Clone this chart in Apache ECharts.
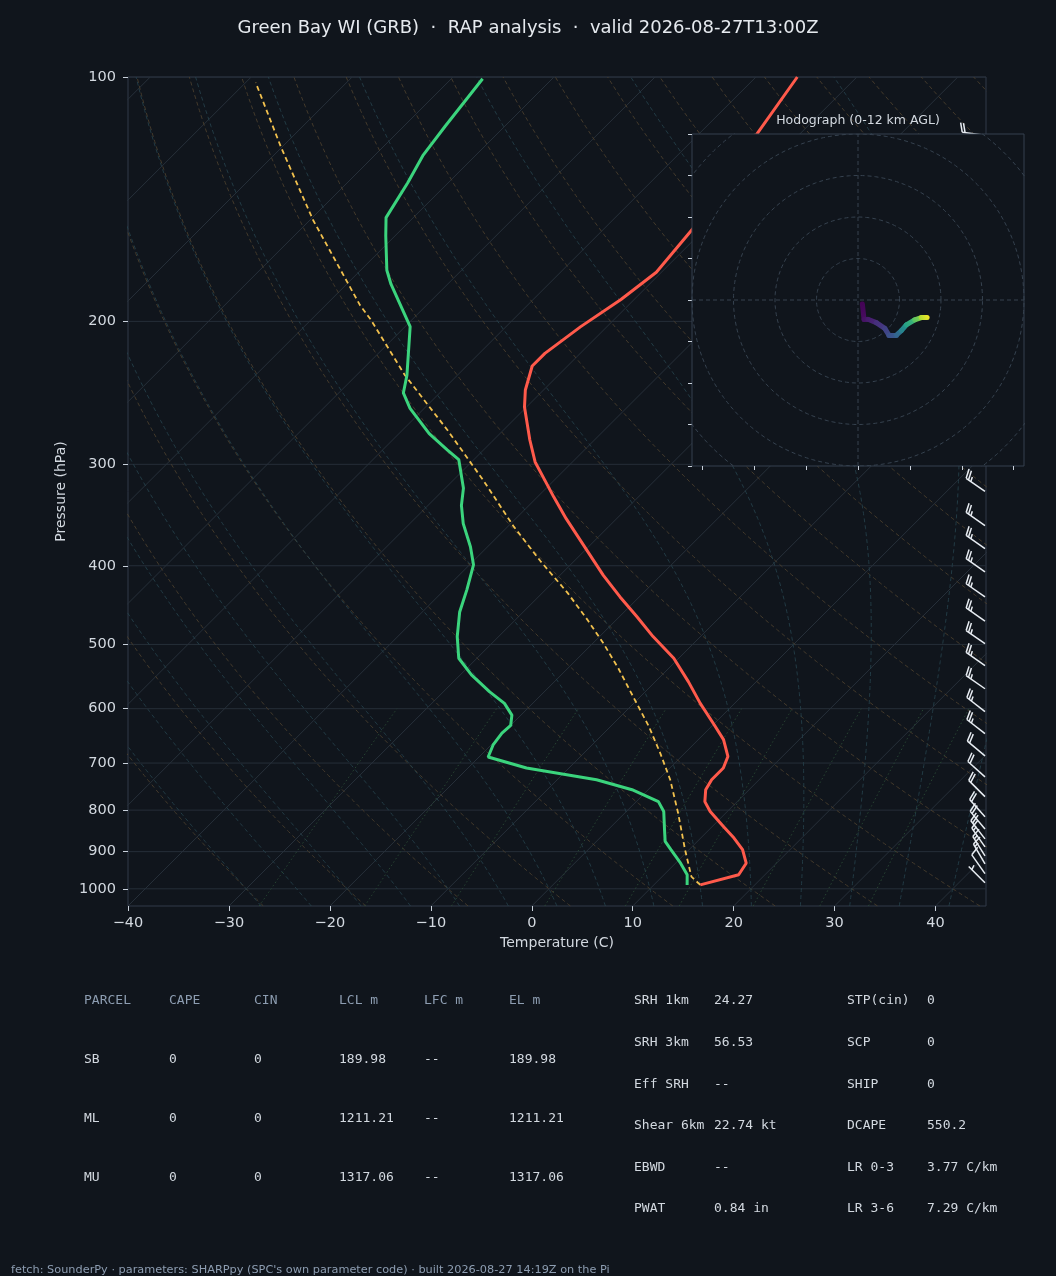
<!DOCTYPE html>
<html>
<head>
<meta charset="utf-8">
<title>Green Bay WI (GRB) sounding</title>
<script src="https://cdn.jsdelivr.net/npm/echarts@6/dist/echarts.min.js"></script>
<style>
  html, body { margin: 0; padding: 0; background: #10151c; }
  #chart { width: 1056px; height: 1276px; }
</style>
</head>
<body>
<div id="chart"></div>
<script>
// ---- sounding: pressure (hPa) / temperature (C) ----
var tempP = [989, 961, 930, 895, 866, 838, 803, 781, 755, 734, 710, 687, 655, 628, 591, 556, 520, 489, 462, 437,
             411, 395, 377, 350, 329, 314, 298, 280, 255, 243, 227, 219, 203, 188, 174, 154, 135, 117, 100];
var tempT = [14.6, 17.4, 17.0, 15.3, 13.3, 11.1, 8.3, 6.8, 5.7, 5.3, 5.3, 4.6, 2.5, 0.1, -3.4, -6.7, -10.5, -14.7, -18.3, -21.9,
             -25.7, -28.0, -30.7, -35.0, -38.4, -40.9, -43.7, -46.4, -50.2, -51.8, -53.5, -53.5, -52.6, -51.3, -50.5, -51.2, -52.7, -54.3, -55.9];

var dewP = [989, 961, 930, 895, 874, 846, 803, 781, 755, 734, 710, 688, 665, 643, 629, 611, 591, 572, 545, 520,
            489, 456, 428, 399, 379, 355, 337, 321, 296, 288, 275, 256, 245, 233, 203, 194, 180, 173, 157, 149,
            135, 125, 115, 100.5];
var dewT = [13.3, 12.3, 10.5, 8.2, 6.8, 5.6, 3.7, 2.2, -1.6, -6.1, -14.2, -19.1, -19.8, -20.1, -20.0, -20.9, -22.8, -25.4, -28.9, -31.8,
            -34.1, -36.3, -37.8, -39.6, -41.7, -44.7, -46.7, -48.2, -51.5, -53.6, -57.0, -61.4, -63.6, -65.0, -69.5, -71.8, -75.6, -77.4, -80.9, -82.7,
            -84.0, -85.2, -85.9, -86.9];

var parcelP = [989, 966, 895, 807, 734, 681, 631, 580, 535, 498, 466, 432, 395, 358, 314, 272, 233, 199, 191, 150, 122, 101.6];
var parcelT = [14.6, 12.9, 9.6, 5.3, 1.2, -2.4, -6.2, -10.7, -15.0, -19.0, -22.9, -27.5, -33.3, -39.4, -47.0, -55.6, -65.2, -74.1, -76.6, -89.7, -100.1, -109.0];

// wind barbs: pressure (hPa), direction (deg), speed (kt)
var barbP   = [118, 324, 357, 381, 407, 437, 468, 499, 531, 567, 605, 644, 686, 728, 770, 815, 844, 868, 888, 911, 932, 958, 983];
var barbDir = [278, 305, 305, 305, 305, 305, 305, 305, 305, 305, 308, 308, 310, 312, 315, 318, 320, 322, 325, 328, 330, 325, 315];
var barbSpd = [20, 25, 25, 25, 25, 25, 25, 25, 25, 25, 25, 25, 20, 20, 20, 20, 20, 20, 15, 15, 15, 10, 5];

// hodograph 0-12 km: u, v (kt), height (km AGL)
var hodoU = [2.1, 2.9, 4.8, 8.8, 12.9, 14.9, 18.5, 20.9, 23.3, 27.3, 30.5, 33.3];
var hodoV = [-1.9, -9.3, -9.3, -10.9, -13.7, -16.9, -16.9, -14.8, -12.0, -9.6, -8.5, -8.4];
var hodoZ = [0, 0.5, 0.8, 1.5, 2.2, 2.8, 3.6, 5.0, 6.5, 8.5, 10.3, 12.0];
var hodoRings = [20, 40, 60, 80, 100];
var hodoXTicks = [-75, -50, -25, 0, 25, 50, 75];

var pressureTicks = [100, 200, 300, 400, 500, 600, 700, 800, 900, 1000];
var tempTicks = [-40, -30, -20, -10, 0, 10, 20, 30, 40];

// parameter tables
var parcelHead = ['PARCEL', 'CAPE', 'CIN', 'LCL m', 'LFC m', 'EL m'];
var parcelRows = [
  ['SB', '0', '0', '189.98', '--', '189.98'],
  ['ML', '0', '0', '1211.21', '--', '1211.21'],
  ['MU', '0', '0', '1317.06', '--', '1317.06']
];
var kinematics = [['SRH 1km', '24.27'], ['SRH 3km', '56.53'], ['Eff SRH', '--'],
                  ['Shear 6km', '22.74 kt'], ['EBWD', '--'], ['PWAT', '0.84 in']];
var composites = [['STP(cin)', '0'], ['SCP', '0'], ['SHIP', '0'],
                  ['DCAPE', '550.2'], ['LR 0-3', '3.77 C/km'], ['LR 3-6', '7.29 C/km']];

var BG = '#10151c';
var TXT = '#d3d9e0';
var SKEW = 80.5;          // deg C of x shift per decade of pressure
var P_BOT = 1050, P_TOP = 100;

function lp(p) { return Math.log10(p); }
function skewX(t, p) { return t + SKEW * Math.log10(P_BOT / p); }
function profile(ps, ts) { return ps.map(function (p, i) { return [skewX(ts[i], p), lp(p)]; }); }

// ---- thermodynamic background lines ----
var curveP = [];
for (var q = P_BOT; q >= P_TOP; q -= 5) curveP.push(q);

var isotherms = [];
for (var ti = -130; ti <= 40; ti += 10) {
  isotherms.push({ coords: [[skewX(ti, P_BOT), lp(P_BOT)], [skewX(ti, P_TOP), lp(P_TOP)]] });
}
var isobars = pressureTicks.map(function (p) { return { coords: [[-40, lp(p)], [45, lp(p)]] }; });

var dryAdiabats = [];
for (var td = -30; td <= 200; td += 10) {
  dryAdiabats.push({ coords: curveP.map(function (p) {
    var t = (td + 273.15) * Math.pow(p / 1000, 0.2857) - 273.15;
    return [skewX(t, p), lp(p)];
  }) });
}

function moistRate(p, T) {
  var tc = T - 273.15;
  var es = 6.112 * Math.exp(17.67 * tc / (tc + 243.5));
  var rs = 0.622 * es / (p - es);
  var Lv = 2.501e6;
  return (287.04 * T + Lv * rs) / (1005.7 + Lv * Lv * rs * 0.622 / (287.04 * T * T)) / p;
}
function moistRun(t0, pEnd, h) {
  var T = t0 + 273.15, p = 1000, out = [[p, T]];
  while (h < 0 ? p + h >= pEnd - 1e-6 : p + h <= pEnd + 1e-6) {
    var k1 = moistRate(p, T), k2 = moistRate(p + h / 2, T + h / 2 * k1);
    var k3 = moistRate(p + h / 2, T + h / 2 * k2), k4 = moistRate(p + h, T + h * k3);
    T += h / 6 * (k1 + 2 * k2 + 2 * k3 + k4);
    p += h;
    out.push([p, T]);
  }
  return out;
}
var moistAdiabats = [];
for (var tm = -30; tm <= 45; tm += 5) {
  var pts = moistRun(tm, P_BOT, 5).reverse().concat(moistRun(tm, P_TOP, -5).slice(1));
  moistAdiabats.push({ coords: pts.map(function (pt) { return [skewX(pt[1] - 273.15, pt[0]), lp(pt[0])]; }) });
}

var mixingLines = [0.4, 1, 2, 4, 7, 10, 16, 24, 32].map(function (w) {
  var r = w / 1000, c = [];
  for (var p = P_BOT; p >= 600; p -= 10) {
    var e = r * p / (0.622 + r), a = Math.log(e / 6.112);
    c.push([skewX(243.5 * a / (17.67 - a), p), lp(p)]);
  }
  return { coords: c };
});

function bgLines(data, color, type, width) {
  return {
    type: 'lines', coordinateSystem: 'cartesian2d', xAxisIndex: 0, yAxisIndex: 0,
    polyline: true, silent: true, clip: true, z: 1,
    lineStyle: { color: color, width: width, type: type, opacity: 1 },
    data: data
  };
}

// ---- hodograph ----
var viridisStops = ['#440154', '#482878', '#3e4989', '#31688e', '#26828e', '#1f9e89', '#35b779', '#6ece58', '#b5de2b', '#fde725'];
function hex(c) { return [parseInt(c.substr(1, 2), 16), parseInt(c.substr(3, 2), 16), parseInt(c.substr(5, 2), 16)]; }
function viridis(t) {
  t = Math.max(0, Math.min(1, t)) * (viridisStops.length - 1);
  var i = Math.min(Math.floor(t), viridisStops.length - 2), f = t - i;
  var a = hex(viridisStops[i]), b = hex(viridisStops[i + 1]);
  return 'rgb(' + a.map(function (v, k) { return Math.round(v + (b[k] - v) * f); }).join(',') + ')';
}
var zMax = hodoZ[hodoZ.length - 1];
var hodoSegments = [];
for (var s = 0; s < hodoU.length - 1; s++) {
  var du = hodoU[s + 1] - hodoU[s], dv = hodoV[s + 1] - hodoV[s];
  var gx = du >= 0 ? 0 : 1, gy = dv <= 0 ? 0 : 1;
  hodoSegments.push({
    coords: [[hodoU[s], hodoV[s]], [hodoU[s + 1], hodoV[s + 1]]],
    lineStyle: { color: { type: 'linear', x: gx, y: gy, x2: 1 - gx, y2: 1 - gy,
      colorStops: [{ offset: 0, color: viridis(hodoZ[s] / zMax) }, { offset: 1, color: viridis(hodoZ[s + 1] / zMax) }] } }
  });
}
var ringLines = hodoRings.map(function (r) {
  var c = [];
  for (var k = 0; k <= 180; k++) { var a = k / 180 * 2 * Math.PI; c.push([r * Math.cos(a), r * Math.sin(a)]); }
  return { coords: c };
});
ringLines.push({ coords: [[-80, 0], [80, 0]] }, { coords: [[0, -80], [0, 80]] });

// ---- wind barbs ----
function renderBarb(params, api) {
  var base = api.coord([api.value(0), api.value(1)]);
  var d = api.value(2) * Math.PI / 180;
  var spd = Math.round(api.value(3) / 5) * 5;
  var L = 23, fh = 0.4 * L, fw = 0.25 * L, sp = 0.125 * L;
  var sx = Math.sin(d), sy = -Math.cos(d);   // staff points where the wind comes from
  var nx = -sy, ny = sx;                      // barbs on the clockwise side
  function pt(o, h) { return [base[0] + sx * o + nx * h, base[1] + sy * o + ny * h]; }
  var st = { stroke: '#e8edf3', lineWidth: 1.5, fill: null };
  var kids = [{ type: 'polyline', shape: { points: [pt(0, 0), pt(L, 0)] }, style: st }];
  var flags = Math.floor(spd / 50), rest = spd - flags * 50;
  var full = Math.floor(rest / 10), half = rest % 10 >= 5;
  var off = L;
  for (var i = 0; i < flags; i++) {
    kids.push({ type: 'polygon', shape: { points: [pt(off, 0), pt(off - fw / 2, fh), pt(off - fw, 0)] }, style: { fill: '#e8edf3' } });
    off -= fw + sp;
  }
  for (var j = 0; j < full; j++) {
    kids.push({ type: 'polyline', shape: { points: [pt(off, 0), pt(off + fw / 2, fh)] }, style: st });
    off -= sp;
  }
  if (half) {
    if (off === L) off -= 1.5 * sp;
    kids.push({ type: 'polyline', shape: { points: [pt(off, 0), pt(off + fw / 4, fh / 2)] }, style: st });
  }
  return { type: 'group', children: kids };
}

// ---- text blocks ----
var MONO = '13px "DejaVu Sans Mono"';
var graphics = [
  { type: 'text', z: 100, style: { x: 528, y: 28, text: 'Green Bay WI (GRB)  \u00b7  RAP analysis  \u00b7  valid 2026-08-27T13:00Z',
    fill: '#e6eaef', font: '18px "DejaVu Sans"', textAlign: 'center', textVerticalAlign: 'middle' } },
  { type: 'text', z: 100, style: { x: 858, y: 121, text: 'Hodograph (0-12 km AGL)',
    fill: '#d3d9e0', font: '12.5px "DejaVu Sans"', textAlign: 'center', textVerticalAlign: 'middle' } },
  { type: 'text', z: 100, style: { x: 11, y: 1270,
    text: 'fetch: SounderPy \u00b7 parameters: SHARPpy (SPC\'s own parameter code) \u00b7 built 2026-08-27 14:19Z on the Pi',
    fill: '#8d9db1', font: '11.3px "DejaVu Sans"', textAlign: 'left', textVerticalAlign: 'middle' } }
];
var colX = [84, 169, 254, 339, 424, 509];
parcelHead.forEach(function (h, i) {
  graphics.push({ type: 'text', z: 100, style: { x: colX[i], y: 1001, text: h, fill: '#8d9db1', font: MONO, textVerticalAlign: 'middle' } });
});
parcelRows.forEach(function (row, r) {
  row.forEach(function (v, i) {
    graphics.push({ type: 'text', z: 100, style: { x: colX[i], y: 1060 + r * 59, text: v, fill: TXT, font: MONO, textVerticalAlign: 'middle' } });
  });
});
[[kinematics, 634, 714], [composites, 847, 927]].forEach(function (blk) {
  blk[0].forEach(function (row, r) {
    var y = 1001 + r * 41.6;
    graphics.push({ type: 'text', z: 100, style: { x: blk[1], y: y, text: row[0], fill: TXT, font: MONO, textVerticalAlign: 'middle' } });
    graphics.push({ type: 'text', z: 100, style: { x: blk[2], y: y, text: row[1], fill: TXT, font: MONO, textVerticalAlign: 'middle' } });
  });
});

var tickStyle = { color: '#c9d1db', width: 1 };
var option = {
  backgroundColor: BG,
  animation: false,
  textStyle: { fontFamily: 'DejaVu Sans' },
  grid: [
    { left: 128, top: 77, width: 858, height: 829, show: true, backgroundColor: 'transparent',
      borderColor: '#303b48', borderWidth: 1, outerBoundsMode: 'none' },
    { left: 692, top: 134, width: 332, height: 332, show: true, backgroundColor: BG,
      borderColor: '#34414f', borderWidth: 1, z: 10, outerBoundsMode: 'none' }
  ],
  xAxis: [
    { gridIndex: 0, type: 'value', min: -40, max: 45, interval: 10, position: 'bottom',
      axisLine: { show: false, onZero: false }, splitLine: { show: false },
      axisTick: { show: true, customValues: tempTicks, length: 5, lineStyle: tickStyle },
      axisLabel: { customValues: tempTicks, color: TXT, fontSize: 14.5, margin: 10,
        formatter: function (v) { return String(v).replace('-', '\u2212'); } },
      name: 'Temperature (C)', nameLocation: 'middle', nameGap: 30,
      nameTextStyle: { color: TXT, fontSize: 14 } },
    { gridIndex: 1, type: 'value', min: -80, max: 80, z: 11, position: 'bottom',
      axisLine: { show: false, onZero: false }, splitLine: { show: false }, axisLabel: { show: false },
      axisTick: { show: true, customValues: hodoXTicks, length: 4, lineStyle: tickStyle } }
  ],
  yAxis: [
    { gridIndex: 0, type: 'value', min: 2, max: lp(P_BOT), inverse: true, position: 'left',
      axisLine: { show: false, onZero: false }, splitLine: { show: false },
      axisTick: { show: true, customValues: pressureTicks.map(lp), length: 5, lineStyle: tickStyle },
      axisLabel: { customValues: pressureTicks.map(lp), color: TXT, fontSize: 14.5, margin: 12,
        formatter: function (v) { return String(Math.round(Math.pow(10, v))); } },
      name: 'Pressure (hPa)', nameLocation: 'middle', nameGap: 55, nameRotate: 90,
      nameTextStyle: { color: TXT, fontSize: 14 } },
    { gridIndex: 1, type: 'value', min: -80, max: 80, interval: 20, z: 11, position: 'left',
      axisLine: { show: false, onZero: false }, splitLine: { show: false }, axisLabel: { show: false },
      axisTick: { show: true, length: 4, lineStyle: tickStyle } }
  ],
  series: [
    bgLines(isobars, '#252e38', 'solid', 1),
    bgLines(isotherms, '#27303a', 'solid', 1),
    bgLines(dryAdiabats, '#4a3e2e', [4, 3], 0.9),
    bgLines(moistAdiabats, '#25404a', [4, 3], 0.9),
    bgLines(mixingLines, '#2a4a36', [1.5, 2.5], 0.9),
    { type: 'line', name: 'Parcel', data: profile(parcelP, parcelT), symbol: 'none', clip: true, z: 4,
      lineStyle: { color: '#f2c14e', width: 1.8, type: [5, 3.5] } },
    { type: 'line', name: 'Dewpoint', data: profile(dewP, dewT), symbol: 'none', clip: true, z: 5,
      lineStyle: { color: '#3bd47d', width: 3 } },
    { type: 'line', name: 'Temperature', data: profile(tempP, tempT), symbol: 'none', clip: true, z: 5,
      lineStyle: { color: '#ff5a4b', width: 3 } },
    { type: 'custom', name: 'Wind', coordinateSystem: 'cartesian2d', xAxisIndex: 0, yAxisIndex: 0, z: 6,
      data: barbP.map(function (p, i) { return [44.9, lp(p), barbDir[i], barbSpd[i]]; }),
      renderItem: renderBarb },
    { type: 'lines', coordinateSystem: 'cartesian2d', xAxisIndex: 1, yAxisIndex: 1, polyline: true,
      silent: true, clip: true, z: 12, data: ringLines,
      lineStyle: { color: '#36424f', width: 1, type: [4, 3], opacity: 1 } },
    { type: 'lines', coordinateSystem: 'cartesian2d', xAxisIndex: 1, yAxisIndex: 1,
      silent: true, clip: true, z: 13, data: hodoSegments,
      lineStyle: { width: 5, cap: 'round', opacity: 1 } }
  ],
  graphic: graphics
};

var chart = echarts.init(document.getElementById('chart'));
chart.setOption(option);
</script>
</body>
</html>
